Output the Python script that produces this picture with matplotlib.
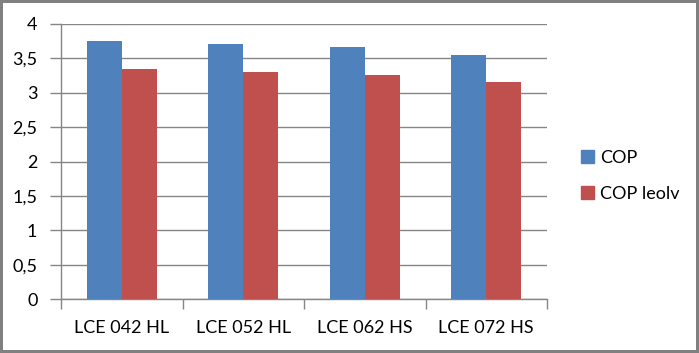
import numpy as np
import matplotlib.pyplot as plt
from matplotlib.patches import Patch
from matplotlib.ticker import FixedLocator, FuncFormatter

plt.rcParams['font.family'] = ['Lato', 'DejaVu Sans']

categories = ['LCE 042 HL', 'LCE 052 HL', 'LCE 062 HS', 'LCE 072 HS']
cop = [3.75, 3.71, 3.665, 3.55]
cop_leolv = [3.345, 3.305, 3.26, 3.16]
series_names = ['COP', 'COP leolv']

blue = '#4F81BD'
red = '#C0504D'
grey = '#868686'

fig = plt.figure(figsize=(6.99, 3.53), dpi=100)
fig.patch.set_edgecolor('#808080')
fig.patch.set_linewidth(3)

ax = fig.add_axes([61 / 699, 1 - 299 / 353, 486 / 699, 275 / 353])

x = np.arange(len(categories))
w = 0.288
ax.bar(x - w / 2, cop, w, color=blue, zorder=3)
ax.bar(x + w / 2, cop_leolv, w, color=red, zorder=3)

ax.set_xlim(-0.5, len(categories) - 0.5)
ax.set_ylim(0, 4)
ax.set_yticks(np.arange(0, 4.01, 0.5))
ax.yaxis.set_major_formatter(FuncFormatter(lambda v, p: f'{v:g}'.replace('.', ',')))
ax.yaxis.grid(True, color=grey, linewidth=1, zorder=0)

ax.xaxis.set_major_locator(FixedLocator(np.arange(-0.5, len(categories), 1)))
ax.xaxis.set_major_formatter(FuncFormatter(lambda v, p: ''))
ax.xaxis.set_minor_locator(FixedLocator(x))
ax.set_xticklabels(categories, minor=True)
ax.tick_params(axis='x', which='major', length=7, color=grey, width=1)
ax.tick_params(axis='x', which='minor', length=0, pad=15, labelsize=13)
ax.tick_params(axis='y', length=8, color=grey, width=1, labelsize=13, pad=9)

for s in ['top', 'right']:
    ax.spines[s].set_visible(False)
for s in ['left', 'bottom']:
    ax.spines[s].set_color(grey)
    ax.spines[s].set_linewidth(1)

handles = [Patch(color=blue), Patch(color=red)]
fig.legend(handles, series_names, loc='center left', bbox_to_anchor=(565 / 699, 1 - 176 / 353),
           frameon=False, fontsize=13, handlelength=0.7, handleheight=0.7,
           handletextpad=0.35, labelspacing=1.1)

fig.savefig('out.png', dpi=100, edgecolor=fig.get_edgecolor())
